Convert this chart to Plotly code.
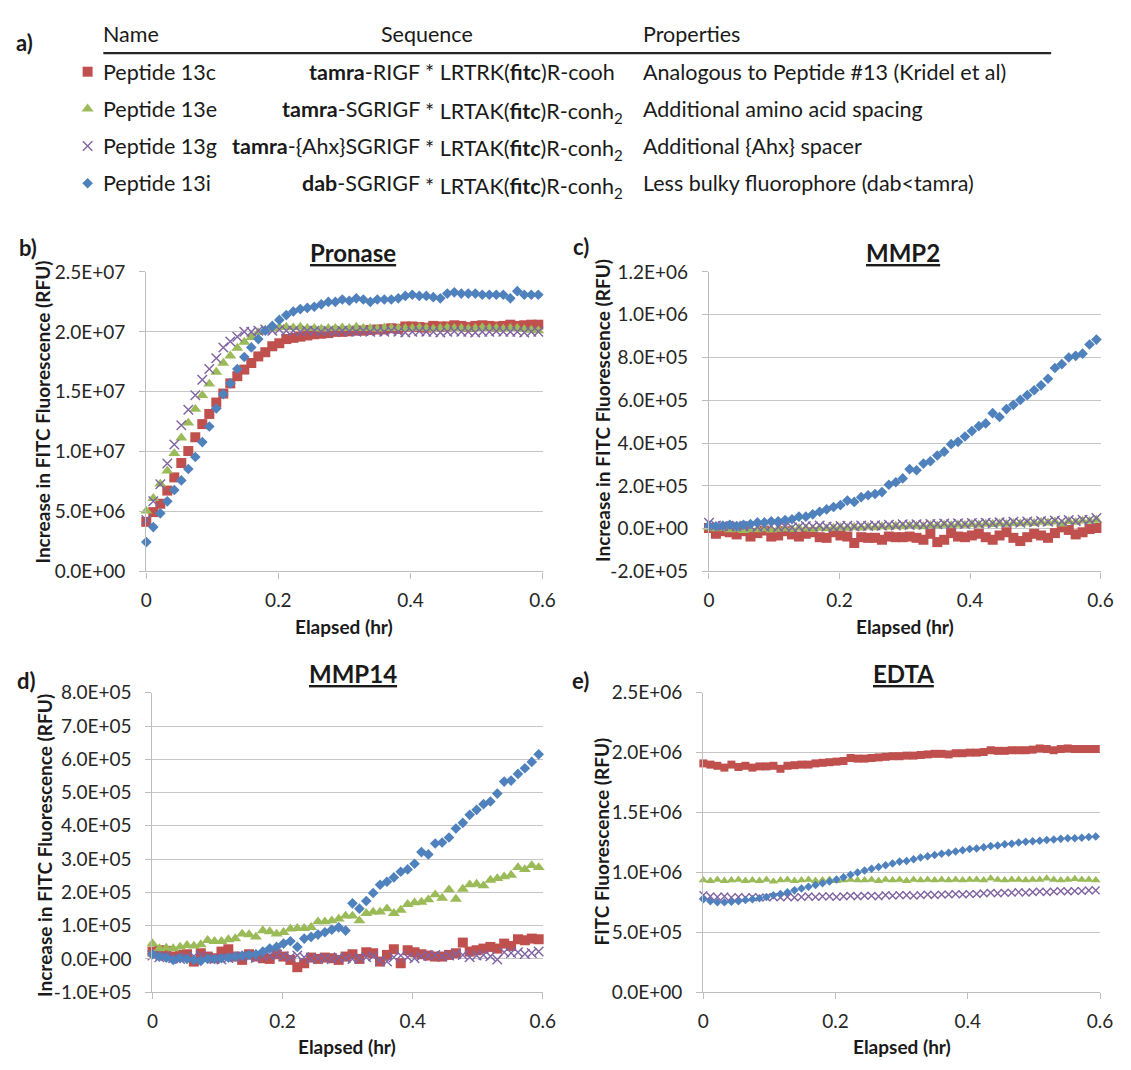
import plotly.graph_objects as go

W, H = 1131, 1070
FONT = "Lato"
TEXT = "#1a1a1a"
TICK = "#262626"
AXIS = "#bdbdbd"
GRID = "#c6c6c6"

# ---------------------------------------------------------------- data
# plate-reader sampling grid (elapsed hours)
TIME_STEP_HR = 0.0106
N_READS = 57
elapsed_hr = [round(i * TIME_STEP_HR, 4) for i in range(N_READS)]

peptides = ["Peptide 13c", "Peptide 13e", "Peptide 13g", "Peptide 13i"]
seq_head = ["<b>tamra</b>-RIGF", "<b>tamra</b>-SGRIGF",
            "<b>tamra</b>-{Ahx}SGRIGF", "<b>dab</b>-SGRIGF"]
seq_tail = ["* LRTRK(<b>fitc</b>)R-cooh", "* LRTAK(<b>fitc</b>)R-conh<sub>2</sub>",
            "* LRTAK(<b>fitc</b>)R-conh<sub>2</sub>", "* LRTAK(<b>fitc</b>)R-conh<sub>2</sub>"]
properties = ["Analogous to Peptide #13 (Kridel et al)",
              "Additional amino acid spacing",
              "Additional {Ahx} spacer",
              "Less bulky fluorophore (dab&lt;tamra)"]

# Pronase, RFU x 1e6
pronase_13c = [4.14, 4.95, 5.65, 6.75, 7.85, 9.05, 10.05, 11.2, 12.3, 13.15,
               14.1, 14.85, 15.7, 16.3, 16.85, 17.4, 17.95, 18.3, 18.8, 19.05,
               19.4, 19.5, 19.6, 19.7, 19.8, 19.85, 19.9, 20.0, 20.0, 20.05,
               20.1, 20.1, 20.15, 20.2, 20.2, 20.3, 20.25, 20.45, 20.45, 20.4,
               20.35, 20.5, 20.45, 20.45, 20.55, 20.5, 20.4, 20.5, 20.55, 20.5,
               20.45, 20.5, 20.6, 20.5, 20.55, 20.6, 20.6]
pronase_13e = [5.05, 6.1, 7.3, 8.4, 9.85, 11.15, 12.4, 13.55, 14.7, 15.65,
               16.65, 17.4, 18.0, 18.65, 19.15, 19.55, 19.95, 20.15, 20.3, 20.4,
               20.4, 20.35, 20.4, 20.3, 20.3, 20.25, 20.3, 20.3, 20.35, 20.3,
               20.4, 20.3, 20.3, 20.25, 20.35, 20.3, 20.3, 20.3, 20.3, 20.35,
               20.3, 20.25, 20.3, 20.35, 20.3, 20.3, 20.25, 20.3, 20.35, 20.3,
               20.3, 20.25, 20.3, 20.3, 20.2, 20.15, 20.1]
pronase_13g = [4.3, 5.85, 7.27, 9.0, 10.6, 12.2, 13.5, 14.7, 16.0, 16.9,
               17.8, 18.7, 19.2, 19.6, 20.0, 20.0, 20.1, 20.2, 20.1, 20.2,
               20.1, 20.1, 20.0, 20.1, 20.1, 20.0, 20.1, 20.0, 20.1, 20.05,
               20.0, 20.1, 20.0, 20.05, 20.0, 20.1, 20.0, 19.95, 20.0, 20.05,
               20.0, 20.0, 19.95, 20.0, 20.05, 20.0, 20.0, 19.95, 20.0, 20.0,
               20.05, 20.0, 20.0, 20.0, 19.95, 20.0, 20.0]
pronase_13i = [2.45, 3.7, 4.85, 5.85, 6.8, 7.6, 8.55, 9.55, 10.8, 12.1,
               13.6, 14.8, 15.7, 16.9, 17.9, 18.7, 19.4, 20.1, 20.5, 21.0,
               21.4, 21.7, 21.9, 22.0, 22.1, 22.3, 22.5, 22.5, 22.7, 22.6,
               22.8, 22.7, 22.5, 22.7, 22.7, 22.7, 22.8, 23.0, 23.1, 23.0,
               23.0, 22.9, 22.8, 23.2, 23.3, 23.2, 23.2, 23.2, 23.1, 23.1,
               23.1, 23.1, 22.8, 23.4, 23.1, 23.1, 23.1]

# MMP2, RFU x 1e5
mmp2_13c = [0.03, -0.24, -0.12, -0.17, -0.27, -0.12, -0.37, -0.21, -0.09, -0.37,
            -0.32, -0.12, -0.27, -0.37, -0.24, -0.17, -0.40, -0.43, -0.17, -0.32,
            -0.37, -0.67, -0.40, -0.43, -0.43, -0.52, -0.37, -0.40, -0.40, -0.37,
            -0.43, -0.52, -0.24, -0.63, -0.52, -0.21, -0.37, -0.40, -0.32, -0.24,
            -0.40, -0.52, -0.32, -0.17, -0.43, -0.58, -0.40, -0.24, -0.32, -0.43,
            -0.21, 0.06, -0.06, -0.27, -0.17, -0.02, 0.03]
mmp2_13e = [0.05, 0.0, 0.02, -0.05, -0.02, -0.08, -0.03, -0.05, 0.0, -0.06,
            -0.02, 0.0, -0.04, 0.02, 0.0, -0.03, 0.02, 0.0, 0.03, 0.05,
            0.02, 0.06, 0.04, 0.08, 0.05, 0.1, 0.08, 0.12, 0.1, 0.14,
            0.12, 0.1, 0.15, 0.13, 0.17, 0.15, 0.18, 0.16, 0.2, 0.18,
            0.22, 0.2, 0.24, 0.21, 0.25, 0.23, 0.27, 0.25, 0.3, 0.27,
            0.32, 0.22, 0.34, 0.3, 0.36, 0.35, 0.4]
mmp2_13g = [0.28, 0.15, 0.12, 0.1, 0.14, 0.1, 0.12, 0.08, 0.1, 0.12,
            0.08, 0.1, 0.05, 0.08, 0.12, 0.1, 0.15, 0.1, 0.08, 0.12,
            0.14, 0.1, 0.15, 0.12, 0.16, 0.14, 0.18, 0.15, 0.2, 0.17,
            0.2, 0.18, 0.22, 0.2, 0.24, 0.2, 0.25, 0.22, 0.26, 0.24,
            0.28, 0.25, 0.3, 0.27, 0.32, 0.28, 0.33, 0.3, 0.36, 0.32,
            0.38, 0.35, 0.4, 0.35, 0.42, 0.4, 0.5]
mmp2_13i = [0.14, 0.11, 0.14, 0.18, 0.12, 0.18, 0.21, 0.29, 0.29, 0.34,
            0.34, 0.40, 0.44, 0.56, 0.56, 0.67, 0.79, 0.90, 1.01, 1.10,
            1.31, 1.25, 1.47, 1.56, 1.62, 1.71, 2.05, 2.17, 2.35, 2.78,
            2.73, 3.04, 3.15, 3.42, 3.60, 3.95, 4.06, 4.31, 4.56, 4.79,
            4.92, 5.40, 5.22, 5.59, 5.79, 6.02, 6.24, 6.47, 6.70, 7.01,
            7.51, 7.69, 8.0, 8.08, 8.18, 8.61, 8.84]

# MMP14, RFU x 1e5
mmp14_13c = [0.22, 0.26, 0.24, 0.07, 0.12, 0.14, -0.08, 0.17, 0.07, 0.02,
             0.22, 0.29, 0.07, -0.03, 0.14, 0.07, 0.02, 0.0, 0.14, 0.07,
             -0.03, -0.25, -0.13, 0.04, 0.0, 0.04, 0.02, -0.03, 0.07, 0.14,
             0.0, 0.2, 0.17, -0.08, 0.12, 0.29, -0.13, 0.26, 0.2, 0.14,
             0.1, 0.07, 0.07, 0.12, 0.17, 0.49, 0.22, 0.26, 0.31, 0.36,
             0.31, 0.46, 0.39, 0.59, 0.56, 0.61, 0.59]
mmp14_13e = [0.46, 0.31, 0.33, 0.31, 0.36, 0.41, 0.39, 0.43, 0.56, 0.53,
             0.53, 0.58, 0.61, 0.75, 0.73, 0.66, 0.85, 0.82, 0.75, 0.80,
             0.90, 0.92, 0.92, 0.95, 1.12, 1.12, 1.15, 1.20, 1.29, 1.29,
             1.15, 1.37, 1.41, 1.41, 1.51, 1.37, 1.47, 1.64, 1.69, 1.71,
             1.78, 1.93, 1.83, 2.08, 1.80, 2.10, 2.23, 2.25, 2.20, 2.37,
             2.42, 2.47, 2.52, 2.75, 2.69, 2.81, 2.75]
mmp14_13g = [0.1, 0.05, 0.08, 0.02, 0.0, 0.05, 0.08, 0.1, 0.05, 0.0,
             -0.02, 0.03, 0.05, 0.08, 0.05, 0.03, 0.08, 0.1, 0.12, 0.08,
             0.05, 0.1, 0.05, 0.0, 0.03, 0.02, 0.0, 0.05, 0.02, 0.0,
             0.03, 0.05, 0.08, -0.05, -0.08, 0.05, 0.1, 0.05, 0.02, 0.08,
             0.1, 0.12, 0.08, 0.1, 0.15, 0.12, 0.05, 0.1, 0.12, 0.08,
             -0.02, 0.2, 0.18, 0.2, 0.15, 0.18, 0.22]
mmp14_13i = [0.14, 0.07, 0.04, -0.03, 0.02, 0.0, -0.03, -0.06, 0.0, 0.0,
             0.02, 0.04, 0.07, 0.1, 0.12, 0.14, 0.22, 0.31, 0.36, 0.46,
             0.53, 0.36, 0.61, 0.66, 0.73, 0.80, 0.88, 0.95, 0.85, 1.67,
             1.51, 1.74, 1.98, 2.23, 2.32, 2.45, 2.62, 2.69, 2.86, 3.21,
             3.14, 3.47, 3.50, 3.65, 3.92, 4.09, 4.33, 4.48, 4.65, 4.73,
             4.97, 5.33, 5.36, 5.56, 5.73, 5.92, 6.15]

# EDTA control, RFU x 1e5
edta_13c = [19.1, 19.0, 18.9, 18.75, 19.0, 18.8, 18.9, 18.75, 18.85, 18.85,
            18.9, 18.65, 18.9, 18.95, 19.0, 19.0, 19.1, 19.15, 19.2, 19.25,
            19.3, 19.55, 19.5, 19.5, 19.55, 19.6, 19.65, 19.7, 19.7, 19.75,
            19.75, 19.8, 19.85, 19.9, 19.9, 19.85, 19.95, 19.95, 20.0, 20.0,
            20.05, 20.2, 20.15, 20.15, 20.2, 20.2, 20.2, 20.25, 20.35, 20.3,
            20.2, 20.3, 20.35, 20.3, 20.3, 20.3, 20.3]
edta_13e = [9.35, 9.3, 9.4, 9.3, 9.35, 9.4, 9.3, 9.35, 9.3, 9.4,
            9.25, 9.35, 9.4, 9.3, 9.35, 9.4, 9.3, 9.35, 9.4, 9.3,
            9.35, 9.4, 9.35, 9.35, 9.4, 9.3, 9.4, 9.35, 9.4, 9.3,
            9.4, 9.35, 9.4, 9.35, 9.4, 9.35, 9.4, 9.35, 9.4, 9.4,
            9.35, 9.5, 9.4, 9.35, 9.4, 9.4, 9.35, 9.4, 9.4, 9.5,
            9.4, 9.35, 9.4, 9.45, 9.4, 9.4, 9.35]
edta_13g = [8.1, 8.0, 7.95, 8.0, 7.9, 7.95, 7.9, 7.95, 7.9, 7.9,
            7.95, 7.9, 7.95, 7.9, 7.95, 8.0, 7.95, 8.0, 8.0, 7.95,
            8.0, 8.05, 8.0, 8.05, 8.05, 8.0, 8.1, 8.05, 8.1, 8.1,
            8.05, 8.1, 8.15, 8.1, 8.15, 8.15, 8.2, 8.15, 8.2, 8.2,
            8.25, 8.3, 8.25, 8.3, 8.3, 8.35, 8.3, 8.35, 8.4, 8.35,
            8.4, 8.45, 8.4, 8.45, 8.45, 8.5, 8.5]
edta_13i = [7.75, 7.6, 7.5, 7.5, 7.55, 7.6, 7.7, 7.75, 7.85, 7.95,
            8.1, 8.2, 8.35, 8.5, 8.65, 8.8, 8.95, 9.1, 9.25, 9.4,
            9.6, 9.8, 10.0, 10.15, 10.3, 10.45, 10.6, 10.75, 10.9, 10.95,
            11.1, 11.25, 11.35, 11.45, 11.55, 11.65, 11.75, 11.85, 11.95, 12.0,
            12.1, 12.2, 12.25, 12.35, 12.4, 12.5, 12.55, 12.6, 12.65, 12.7,
            12.75, 12.8, 12.85, 12.85, 12.9, 12.95, 13.0]

# tick labels
x_ticks = [0, 0.2, 0.4, 0.6]
x_ticktext = ["0", "0.2", "0.4", "0.6"]
pronase_ticks = [0, 5e6, 1e7, 1.5e7, 2e7, 2.5e7]
pronase_ticktext = ["0.0E+00", "5.0E+06", "1.0E+07", "1.5E+07", "2.0E+07", "2.5E+07"]
mmp2_ticks = [-2e5, 0, 2e5, 4e5, 6e5, 8e5, 1e6, 1.2e6]
mmp2_ticktext = ["-2.0E+05", "0.0E+00", "2.0E+05", "4.0E+05", "6.0E+05",
                 "8.0E+05", "1.0E+06", "1.2E+06"]
mmp14_ticks = [-1e5, 0, 1e5, 2e5, 3e5, 4e5, 5e5, 6e5, 7e5, 8e5]
mmp14_ticktext = ["-1.0E+05", "0.0E+00", "1.0E+05", "2.0E+05", "3.0E+05",
                  "4.0E+05", "5.0E+05", "6.0E+05", "7.0E+05", "8.0E+05"]
edta_ticks = [0, 5e5, 1e6, 1.5e6, 2e6, 2.5e6]
edta_ticktext = ["0.0E+00", "5.0E+05", "1.0E+06", "1.5E+06", "2.0E+06", "2.5E+06"]

# ---------------------------------------------------------------- styling
colors = ["#C0504D", "#9BBB59", "#8064A2", "#4F81BD"]
symbols = ["square", "triangle-up", "x-thin", "diamond"]


def px(x):
    return x / W


def py(y):
    return 1 - y / H


def marker(k, scale=1.0):
    sizes = [10, 10.5, 9.5, 8.2]
    m = dict(symbol=symbols[k], size=sizes[k] * scale, color=colors[k])
    if symbols[k] == "x-thin":
        m["line"] = dict(width=1.4, color=colors[k])
    else:
        m["line"] = dict(width=0)
    return m


panels = [
    # (series, scale, y range, ticks, ticktext, x-domain px, y-domain px, marker scale)
    ([pronase_13c, pronase_13e, pronase_13g, pronase_13i], 1e6, [0, 2.5e7],
     pronase_ticks, pronase_ticktext, (142.7, 545.7), (265.7, 571.7), 1.0),
    ([mmp2_13c, mmp2_13e, mmp2_13g, mmp2_13i], 1e5, [-2e5, 1.2e6],
     mmp2_ticks, mmp2_ticktext, (715.0, 1113.3), (265.7, 571.7), 1.0),
    ([mmp14_13c, mmp14_13e, mmp14_13g, mmp14_13i], 1e5, [-1e5, 8e5],
     mmp14_ticks, mmp14_ticktext, (149.0, 546.0), (695.7, 1001.7), 1.0),
    ([edta_13c, edta_13e, edta_13g, edta_13i], 1e5, [0, 2.5e6],
     edta_ticks, edta_ticktext, (709.3, 1112.7), (695.7, 1001.7), 0.8),
]

fig = go.Figure()
layout = {}

# overlay axis used for the key symbols of the peptide table
layout["xaxis5"] = dict(domain=[0, 1], range=[0, W], visible=False,
                        anchor="y5", fixedrange=True)
layout["yaxis5"] = dict(domain=[0, 1], range=[H, 0], visible=False,
                        anchor="x5", fixedrange=True)

ROW_Y = [61, 99, 137, 175]
KEY_X = 83
for k in range(4):
    fig.add_trace(go.Scatter(
        x=[KEY_X], y=[ROW_Y[k]], mode="markers", marker=marker(k),
        showlegend=False, xaxis="x5", yaxis="y5", hoverinfo="skip"))

for p, (series, scale, yr, tv, tt, xd, yd, ms) in enumerate(panels):
    n = p + 1
    xa = "x" if n == 1 else f"x{n}"
    ya = "y" if n == 1 else f"y{n}"
    for k, vals in enumerate(series):
        fig.add_trace(go.Scatter(
            x=elapsed_hr[:len(vals)], y=[v * scale for v in vals],
            mode="markers", marker=marker(k, ms), name=peptides[k],
            showlegend=False, xaxis=xa, yaxis=ya, cliponaxis=False))
    xkey = "xaxis" if n == 1 else f"xaxis{n}"
    ykey = "yaxis" if n == 1 else f"yaxis{n}"
    layout[xkey] = dict(
        domain=[px(xd[0]), px(xd[1])], range=[0, 0.6], anchor=ya,
        tickvals=x_ticks, ticktext=x_ticktext, showgrid=False, zeroline=False,
        showline=True, linecolor=AXIS, linewidth=1.4, ticks="outside",
        ticklen=6, tickcolor=AXIS, tickwidth=1.4, ticklabelstandoff=6,
        tickfont=dict(family=FONT, size=19, color=TICK), fixedrange=True)
    layout[ykey] = dict(
        domain=[py(yd[1]), py(yd[0])], range=yr, anchor=xa,
        tickvals=tv, ticktext=tt, showgrid=True, gridcolor=GRID, gridwidth=1.4,
        zeroline=False, showline=True, linecolor=AXIS, linewidth=1.4,
        ticks="outside", ticklen=6, tickcolor=AXIS, tickwidth=1.4,
        ticklabelstandoff=10,
        tickfont=dict(family=FONT, size=19, color=TICK), fixedrange=True)

ann = []


def text(x, y, s, size=18, bold=False, xanchor="center", angle=0, color=TEXT):
    ann.append(dict(
        x=px(x), y=py(y), xref="paper", yref="paper", text=f"<b>{s}</b>" if bold else s,
        showarrow=False, xanchor=xanchor, yanchor="middle", textangle=angle,
        font=dict(family=FONT, size=size, color=color)))


# peptide table
TBL = 21.5
text(8, 31, "a)", size=22, bold=True, xanchor="left")
text(97, 22, "Name", size=TBL, xanchor="left")
text(428, 22, "Sequence", size=TBL)
text(646, 22, "Properties", size=TBL, xanchor="left")
for k in range(4):
    text(97, ROW_Y[k], peptides[k], size=TBL, xanchor="left")
    text(423, ROW_Y[k], seq_head[k], size=TBL, xanchor="right")
    text(424, ROW_Y[k] + (4 if "sub" in seq_tail[k] else 0), seq_tail[k], size=TBL, xanchor="left")
    text(646, ROW_Y[k], properties[k], size=TBL, xanchor="left")

# panel letters, titles and axis titles
for lab, x, y in [("b)", 22, 241), ("c)", 585, 240), ("d)", 21, 683), ("e)", 584, 683)]:
    text(x, y, lab, size=22, bold=True)
for t, x, y in [("Pronase", 353, 246), ("MMP2", 912, 246), ("MMP14", 353, 676), ("EDTA", 913, 676)]:
    text(x, y, f"<u>{t}</u>", size=24, bold=True)
for x, y in [(344, 628), (914, 628), (347, 1057), (911, 1057)]:
    text(x, y, "Elapsed (hr)", size=19, bold=True)
text(37, 409, "Increase in FITC Fluorescence (RFU)", size=19, bold=True, angle=-90)
text(606, 407, "Increase in FITC Fluorescence (RFU)", size=19, bold=True, angle=-90)
text(39, 852, "Increase in FITC Fluorescence (RFU)", size=19, bold=True, angle=-90)
text(606, 848, "FITC Fluorescence (RFU)", size=19, bold=True, angle=-90)

shapes = [dict(type="line", xref="paper", yref="paper", x0=px(99), x1=px(1063),
               y0=py(42), y1=py(42), line=dict(color="#262626", width=2.2))]

fig.update_layout(
    width=W, height=H, autosize=False,
    margin=dict(l=0, r=0, t=0, b=0),
    paper_bgcolor="white", plot_bgcolor="rgba(0,0,0,0)",
    font=dict(family=FONT, color=TEXT),
    annotations=ann, shapes=shapes, **layout)

# let the 1131x1070 figure fill the page edge to edge
fig.write_html(
    "out.html",
    post_script="document.body.style.margin='0';"
                "document.body.style.overflow='hidden';")
